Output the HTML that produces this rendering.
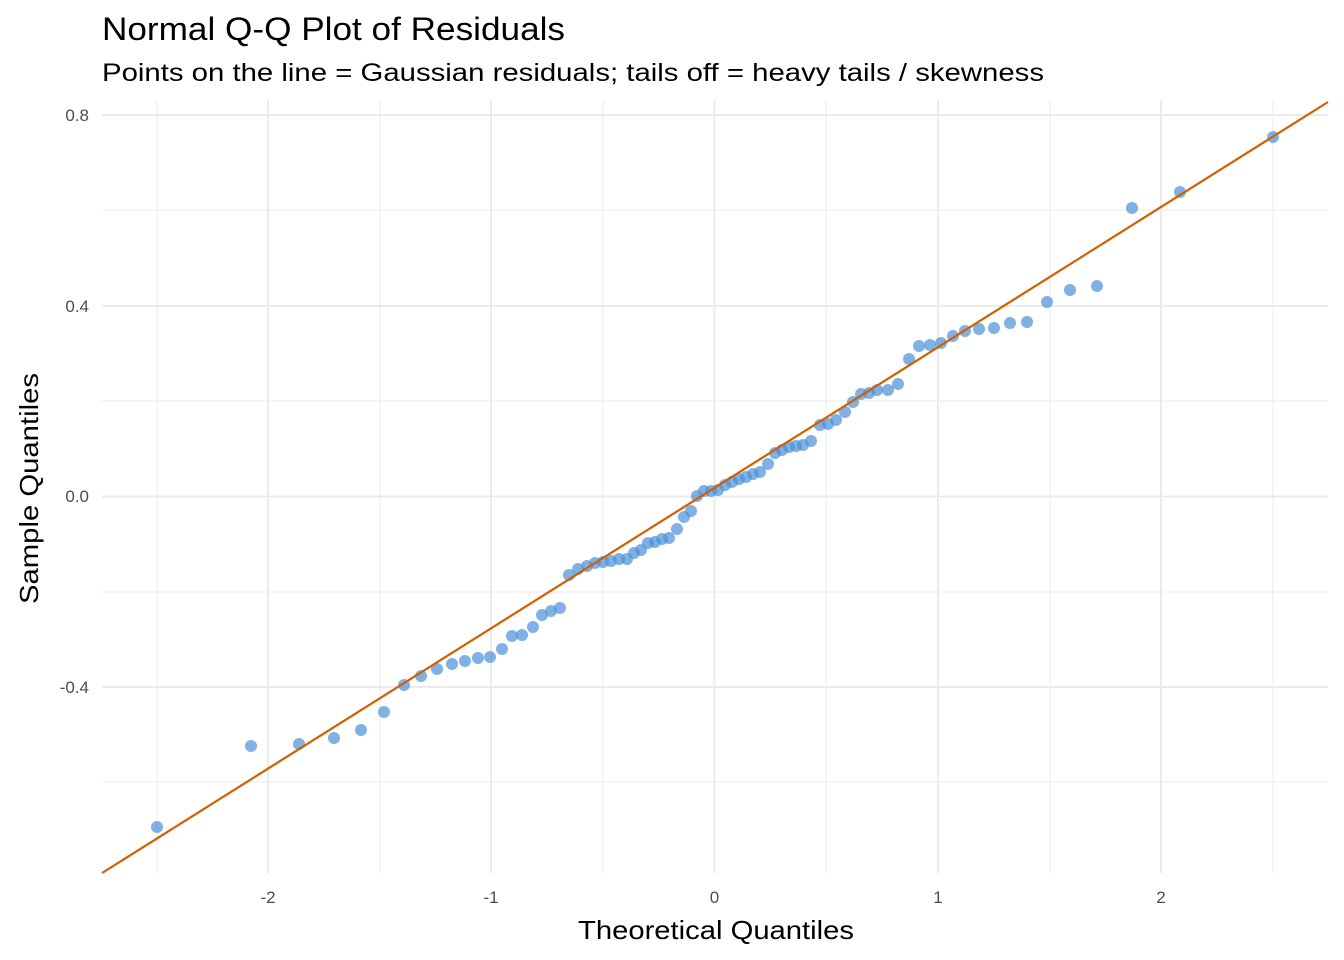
<!DOCTYPE html>
<html><head><meta charset="utf-8"><style>body{margin:0;background:#fff}svg{display:block}text{font-family:"Liberation Sans",sans-serif}</style></head>
<body>
<svg width="1344" height="960" viewBox="0 0 1344 960" xmlns="http://www.w3.org/2000/svg">
<rect width="1344" height="960" fill="#fff"/>
<g stroke="#ebebeb" stroke-width="1">
<line x1="157" y1="100" x2="157" y2="873"/><line x1="380" y1="100" x2="380" y2="873"/><line x1="603" y1="100" x2="603" y2="873"/><line x1="826" y1="100" x2="826" y2="873"/><line x1="1050" y1="100" x2="1050" y2="873"/><line x1="1273" y1="100" x2="1273" y2="873"/>
<line x1="102" y1="210" x2="1328" y2="210"/><line x1="102" y1="401" x2="1328" y2="401"/><line x1="102" y1="592" x2="1328" y2="592"/><line x1="102" y1="782" x2="1328" y2="782"/>
</g>
<g stroke="#ebebeb" stroke-width="2">
<line x1="268" y1="100" x2="268" y2="873"/><line x1="491" y1="100" x2="491" y2="873"/><line x1="714.5" y1="100" x2="714.5" y2="873"/><line x1="938" y1="100" x2="938" y2="873"/><line x1="1161" y1="100" x2="1161" y2="873"/>
<line x1="102" y1="115" x2="1328" y2="115"/><line x1="102" y1="306" x2="1328" y2="306"/><line x1="102" y1="496.5" x2="1328" y2="496.5"/><line x1="102" y1="687" x2="1328" y2="687"/>
</g>
<g fill="#4a90d9" fill-opacity="0.7">
<circle cx="157" cy="827" r="6"/><circle cx="251" cy="746" r="6"/><circle cx="299" cy="744" r="6"/><circle cx="334" cy="738" r="6"/><circle cx="361" cy="730" r="6"/><circle cx="384" cy="712" r="6"/><circle cx="404" cy="685" r="6"/><circle cx="421" cy="676" r="6"/><circle cx="437" cy="669" r="6"/><circle cx="452" cy="664" r="6"/><circle cx="465" cy="661" r="6"/><circle cx="478" cy="658" r="6"/><circle cx="490" cy="657" r="6"/><circle cx="502" cy="649" r="6"/><circle cx="512" cy="636" r="6"/><circle cx="522" cy="635" r="6"/><circle cx="533" cy="627" r="6"/><circle cx="542" cy="615" r="6"/><circle cx="551" cy="611" r="6"/><circle cx="560" cy="608" r="6"/><circle cx="569" cy="575" r="6"/><circle cx="578" cy="569" r="6"/><circle cx="587" cy="566" r="6"/><circle cx="595" cy="563" r="6"/><circle cx="603" cy="562" r="6"/><circle cx="611" cy="561" r="6"/><circle cx="619" cy="559" r="6"/><circle cx="627" cy="559" r="6"/><circle cx="634" cy="553" r="6"/><circle cx="641" cy="550" r="6"/><circle cx="648" cy="543" r="6"/><circle cx="655" cy="542" r="6"/><circle cx="662" cy="539" r="6"/><circle cx="669" cy="538" r="6"/><circle cx="677" cy="529" r="6"/><circle cx="684" cy="517" r="6"/><circle cx="691" cy="511" r="6"/><circle cx="697" cy="496" r="6"/><circle cx="704" cy="491" r="6"/><circle cx="711" cy="491" r="6"/><circle cx="718" cy="490" r="6"/><circle cx="725" cy="485" r="6"/><circle cx="732" cy="482" r="6"/><circle cx="739" cy="479" r="6"/><circle cx="746" cy="477" r="6"/><circle cx="753" cy="474" r="6"/><circle cx="760" cy="472" r="6"/><circle cx="768" cy="464" r="6"/><circle cx="775" cy="453" r="6"/><circle cx="782" cy="450" r="6"/><circle cx="789" cy="447" r="6"/><circle cx="796" cy="446" r="6"/><circle cx="803" cy="445" r="6"/><circle cx="811" cy="441" r="6"/><circle cx="820" cy="425" r="6"/><circle cx="828" cy="424" r="6"/><circle cx="836" cy="420" r="6"/><circle cx="845" cy="412" r="6"/><circle cx="853" cy="402" r="6"/><circle cx="861" cy="394" r="6"/><circle cx="869" cy="393" r="6"/><circle cx="877" cy="390" r="6"/><circle cx="888" cy="390" r="6"/><circle cx="898" cy="384" r="6"/><circle cx="909" cy="359" r="6"/><circle cx="919" cy="346" r="6"/><circle cx="930" cy="345" r="6"/><circle cx="941" cy="343" r="6"/><circle cx="953" cy="336" r="6"/><circle cx="965" cy="331" r="6"/><circle cx="979" cy="329" r="6"/><circle cx="994" cy="328" r="6"/><circle cx="1010" cy="323" r="6"/><circle cx="1027" cy="322" r="6"/><circle cx="1047" cy="302" r="6"/><circle cx="1070" cy="290" r="6"/><circle cx="1097" cy="286" r="6"/><circle cx="1132" cy="208" r="6"/><circle cx="1180" cy="192" r="6"/><circle cx="1273" cy="137" r="6"/>
</g>
<line x1="102" y1="873" x2="1328" y2="102" stroke="#d55e00" stroke-width="2.2"/>
<g font-size="17" fill="#4d4d4d" text-anchor="end">
<text x="89" y="121">0.8</text><text x="89" y="312">0.4</text><text x="89" y="502">0.0</text><text x="89" y="693">-0.4</text>
</g>
<g font-size="17" fill="#4d4d4d" text-anchor="middle">
<text x="268" y="903">-2</text><text x="491" y="903">-1</text><text x="714.5" y="903">0</text><text x="938" y="903">1</text><text x="1161" y="903">2</text>
</g>
<text x="578" y="939" font-size="26" textLength="276" lengthAdjust="spacingAndGlyphs" fill="#000">Theoretical Quantiles</text>
<text transform="translate(38,604) rotate(-90)" font-size="26" textLength="231" lengthAdjust="spacingAndGlyphs" fill="#000">Sample Quantiles</text>
<text x="102" y="40" font-size="32" textLength="463" lengthAdjust="spacingAndGlyphs" fill="#000">Normal Q-Q Plot of Residuals</text>
<text x="102" y="81" font-size="25" textLength="942" lengthAdjust="spacingAndGlyphs" fill="#000">Points on the line = Gaussian residuals; tails off = heavy tails / skewness</text>
</svg>
</body></html>
